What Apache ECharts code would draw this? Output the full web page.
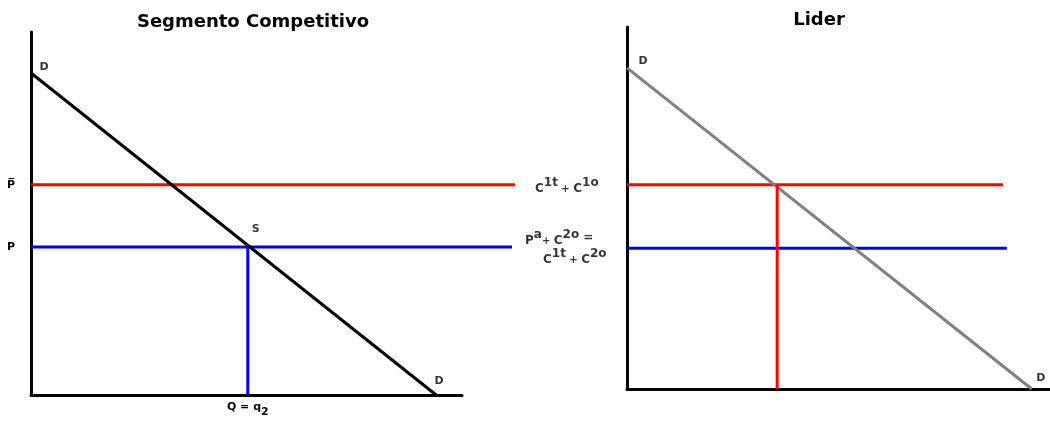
<!DOCTYPE html>
<html>
<head>
<meta charset="utf-8">
<script src="https://cdn.jsdelivr.net/npm/echarts@6.0.0/dist/echarts.min.js"></script>
<style>
  html, body { margin: 0; padding: 0; background: #fff; }
  #chart { width: 1050px; height: 421px; }
</style>
</head>
<body>
<div id="chart"></div>
<script>
// Segmento Competitivo (left panel), units 0..100 on both axes
const compDemand = [[0, 88.7], [94, 0]]
const compRed = [[0, 57.9], [112.3, 57.9]]
const compBlue = [[0, 40.8], [111.6, 40.8]]
const compDrop = [[50.3, 40.8], [50.3, 0]]
const compPriceTicks = [57.9, 40.8]
const compPriceLabels = ['P\u0305', 'P']
const compQuantityTicks = [50.3]

// Lider (right panel)
const liderDemand = [[0, 88.7], [95.7, 0]]
const liderRed = [[0, 56.4], [88.9, 56.4]]
const liderBlue = [[0, 38.9], [89.8, 38.9]]
const liderDrop = [[35.5, 56.4], [35.5, 0]]

const titles = ['Segmento Competitivo', 'Lider']

const FONT = '"DejaVu Sans", Verdana, sans-serif'

const txt = (size, extra) => Object.assign({
  fontSize: size, fontWeight: 'bold', fontFamily: FONT, color: '#000', verticalAlign: 'bottom',
}, extra || {})

const rich = {
  C: txt(12),
  sup: txt(12, { padding: [0, 0, 6, 0] }),
  op: txt(10),
  eq: txt(12, { padding: [0, 0, 3, 0] }),
  a: txt(11, { verticalAlign: 'top' }),
  sub: txt(11, { verticalAlign: 'top', padding: [5, 0, 0, 0] }),
}

const lineSeries = (idx, data, color) => ({
  type: 'line',
  xAxisIndex: idx,
  yAxisIndex: idx,
  data,
  symbol: 'none',
  clip: false,
  silent: true,
  lineStyle: { color, width: 3 },
})

// label anchored to a data point, offset in pixels
const note = (point, text, offset, align) => ({
  value: point,
  label: {
    show: true,
    position: 'inside',
    formatter: text,
    offset,
    align: align || 'center',
    verticalAlign: 'middle',
    fontSize: 11,
    fontWeight: 'bold',
    fontFamily: FONT,
    color: '#000',
    rich,
  },
})

const plainAxis = (idx, max, visible) => ({
  gridIndex: idx,
  type: 'value',
  min: 0,
  max: max || 100,
  axisLine: { show: visible !== false, onZero: false, lineStyle: { color: '#000', width: 3 } },
  axisTick: { show: false },
  splitLine: { show: false },
  axisLabel: { show: false },
})

const chart = echarts.init(document.getElementById('chart'))

chart.setOption({
  animation: false,
  backgroundColor: '#fff',
  title: [
    { text: titles[0], left: 248, top: 8, textAlign: 'center',
      textStyle: { fontSize: 18, fontWeight: 'bold', fontFamily: FONT, color: '#000' } },
    { text: titles[1], left: 814, top: 6, textAlign: 'center',
      textStyle: { fontSize: 18, fontWeight: 'bold', fontFamily: FONT, color: '#000' } },
  ],
  grid: [
    { left: 31, top: 32, width: 431, height: 363 },
    { left: 627, top: 27, right: 0, height: 362 },
    // same scale as the left panel, wider, for the price lines that run past its axis
    { left: 31, top: 32, width: 484, height: 363 },
  ],
  xAxis: [
    Object.assign(plainAxis(0), {
      axisLabel: {
        show: true,
        customValues: compQuantityTicks,
        margin: 7,
        formatter: () => '{a|Q = q}{sub|2}',
        rich,
      },
    }),
    plainAxis(1),
    plainAxis(2, 112.3, false),
  ],
  yAxis: [
    Object.assign(plainAxis(0), {
      axisLabel: {
        show: true,
        customValues: compPriceTicks,
        margin: 16,
        fontSize: 11,
        fontWeight: 'bold',
        fontFamily: FONT,
        color: '#000',
        formatter: (v) => compPriceLabels[compPriceTicks.indexOf(v)],
      },
    }),
    plainAxis(1),
    plainAxis(2, 100, false),
  ],
  series: [
    lineSeries(2, compRed, '#ff0000'),
    lineSeries(2, compBlue, '#0000ff'),
    lineSeries(0, compDrop, '#0000ff'),
    lineSeries(0, compDemand, '#000000'),
    lineSeries(1, liderRed, '#ff0000'),
    lineSeries(1, liderBlue, '#0000ff'),
    lineSeries(1, liderDemand, '#808080'),
    lineSeries(1, liderDrop, '#ff0000'),
    {
      type: 'scatter',
      xAxisIndex: 0,
      yAxisIndex: 0,
      symbolSize: 0,
      clip: false,
      silent: true,
      data: [
        note(compDemand[0], 'D', [13, -6]),
        note(compDemand[1], 'D', [3, -14]),
        note(compDrop[0], 'S', [8, -18]),
      ],
    },
    {
      type: 'scatter',
      xAxisIndex: 2,
      yAxisIndex: 2,
      symbolSize: 0,
      clip: false,
      silent: true,
      data: [
        note(compRed[1], '{C|C}{sup|1t}{op| + }{C|C}{sup|1o}', [20, 1], 'left'),
        note(compBlue[1], '{C|P}{sup|a}{op|+ }{C|C}{sup|2o}{eq| =}', [13, -9], 'left'),
        note(compBlue[1], '{C|C}{sup|1t}{op| + }{C|C}{sup|2o}', [31, 10], 'left'),
      ],
    },
    {
      type: 'scatter',
      xAxisIndex: 1,
      yAxisIndex: 1,
      symbolSize: 0,
      clip: false,
      silent: true,
      data: [
        note(liderDemand[0], 'D', [16, -7]),
        note(liderDemand[1], 'D', [9, -11]),
      ],
    },
  ],
})
</script>
</body>
</html>
